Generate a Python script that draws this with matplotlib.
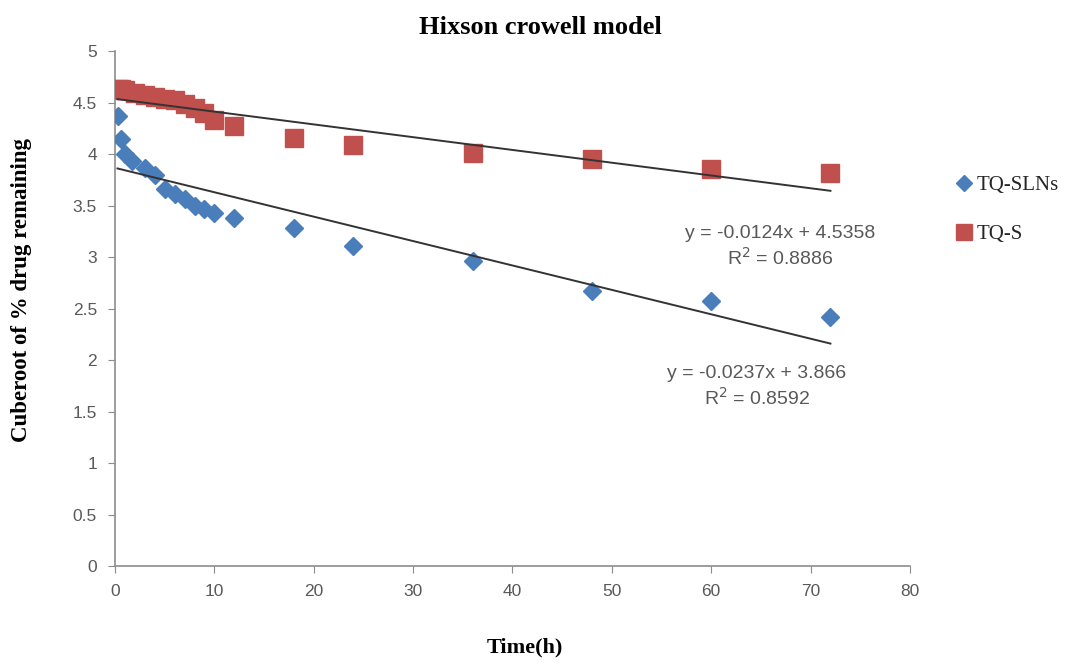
import matplotlib
matplotlib.use("Agg")
import matplotlib.pyplot as plt
from matplotlib.lines import Line2D

# release data (time in hours, cube root of % drug remaining)
time_slns = [0.25, 0.6, 1, 1.7, 3, 4, 5, 6, 7, 8, 9, 10, 12, 18, 24, 36, 48, 60, 72]
cbrt_slns = [4.37, 4.15, 4.00, 3.93, 3.86, 3.80, 3.66, 3.61, 3.56, 3.50, 3.47, 3.43, 3.38,
             3.28, 3.11, 2.96, 2.67, 2.57, 2.42]

time_s = [0.25, 0.6, 1, 2, 3, 4, 5, 6, 7, 8, 9, 10, 12, 18, 24, 36, 48, 60, 72]
cbrt_s = [4.63, 4.63, 4.62, 4.59, 4.57, 4.55, 4.53, 4.52, 4.49, 4.45, 4.40, 4.33, 4.27,
          4.16, 4.09, 4.01, 3.95, 3.85, 3.82]

# linear trendlines: slope, intercept, r^2
fit_slns = (-0.0237, 3.866, 0.8592)
fit_s = (-0.0124, 4.5358, 0.8886)

x_ticks = [0, 10, 20, 30, 40, 50, 60, 70, 80]
y_ticks = [0, 0.5, 1, 1.5, 2, 2.5, 3, 3.5, 4, 4.5, 5]

BLUE = '#4a7ebb'
RED = '#c0504d'
GRAY = '#595959'
SERIF = ['Liberation Serif', 'DejaVu Serif']
SANS = ['Liberation Sans Narrow', 'Liberation Sans', 'DejaVu Sans']

fig = plt.figure(figsize=(10.67, 6.63), dpi=100, facecolor='white')
ax = fig.add_axes([0.1078, 0.1463, 0.745, 0.7767])

ax.plot(time_s, cbrt_s, linestyle='none', marker='s', markersize=13,
        color=RED, zorder=3)
ax.plot(time_slns, cbrt_slns, linestyle='none', marker='D', markersize=9.5,
        color=BLUE, zorder=3)

# trendlines over the sampled range
for (m, b, r2), t in ((fit_s, time_s), (fit_slns, time_slns)):
    xs = [t[0], t[-1]]
    ax.plot(xs, [m * x + b for x in xs], color='#333333', linewidth=1.4, zorder=4)

ax.set_xlim(0, 80)
ax.set_ylim(0, 5)
ax.set_xticks(x_ticks)
ax.set_yticks(y_ticks)
ax.set_yticklabels([f'{v:g}' for v in y_ticks])

for side in ('top', 'right'):
    ax.spines[side].set_visible(False)
for side in ('left', 'bottom'):
    ax.spines[side].set_color('#8c8c8c')
    ax.spines[side].set_linewidth(1.2)
ax.tick_params(axis='both', direction='out', length=5, color='#8c8c8c',
               labelcolor=GRAY, labelsize=12.5, pad=8)
for lbl in ax.get_xticklabels() + ax.get_yticklabels():
    lbl.set_family(SANS)

# equation labels
for (m, b, r2), (tx, ty) in ((fit_s, (780, 233)), (fit_slns, (757, 373))):
    xf = tx / 1067
    yf = 1 - ty / 663
    fig.text(xf, yf, f'y = {m:g}x + {b:g}', ha='center', va='center',
             fontsize=14, color=GRAY, family=SANS)
    fig.text(xf, yf - 25 / 663, f'R$^2$ = {r2:.4f}', ha='center', va='center',
             fontsize=14, color=GRAY, family=SANS)

fig.text(540 / 1067, 1 - 27 / 663, 'Hixson crowell model', ha='center', va='center',
         fontsize=19, fontweight='bold', family=SERIF)
fig.text(525 / 1067, 1 - 647 / 663, 'Time(h)', ha='center', va='center',
         fontsize=16, fontweight='bold', family=SERIF)
fig.text(22 / 1067, 1 - 290 / 663, 'Cuberoot of % drug remaining', ha='center',
         va='center', rotation=90, fontsize=16.5, fontweight='bold', family=SERIF)

handles = [
    Line2D([], [], linestyle='none', marker='D', markersize=8, color=BLUE),
    Line2D([], [], linestyle='none', marker='s', markersize=11, color=RED),
]
fig.legend(handles, ['TQ-SLNs', 'TQ-S'], loc='center left',
           bbox_to_anchor=(935 / 1067, 1 - 210 / 663), frameon=False,
           prop={'family': SERIF, 'size': 15}, handletextpad=0.1,
           handlelength=1.0, labelspacing=1.4, labelcolor='#262626')

fig.savefig('out.png', dpi=100)
